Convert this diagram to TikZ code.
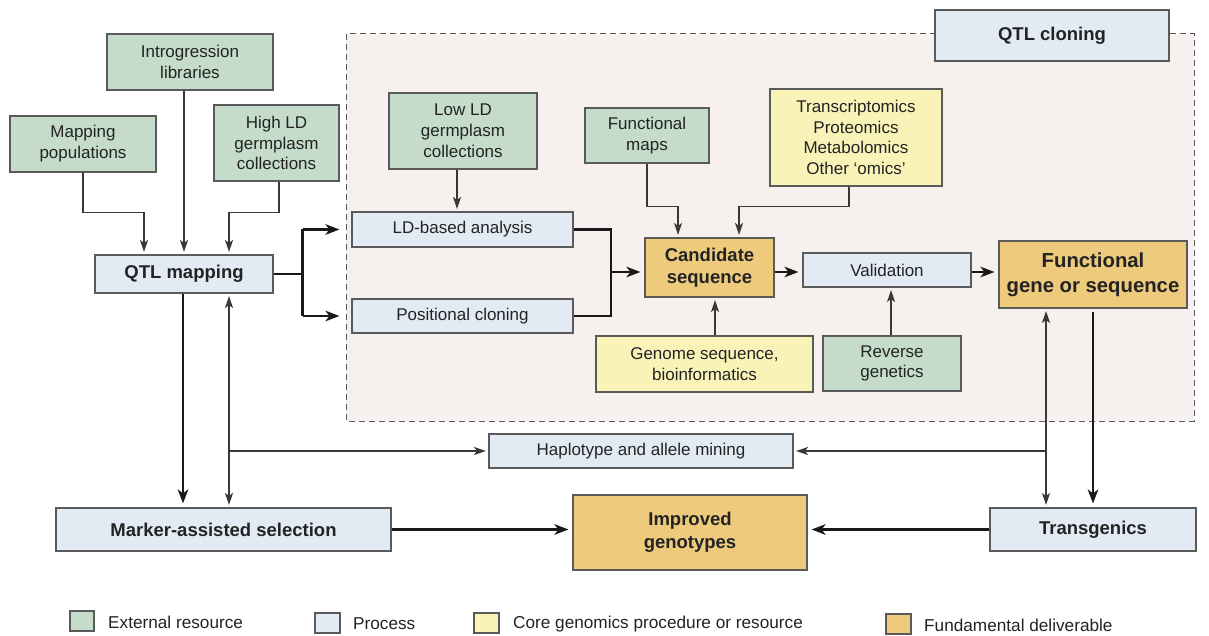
\documentclass[tikz,border=0pt]{standalone}
\usepackage{fontspec}
\setmainfont{Liberation Sans}
\usetikzlibrary{arrows.meta}
\definecolor{cgreen}{RGB}{196,220,201}
\definecolor{cblue}{RGB}{226,234,243}
\definecolor{cyellow}{RGB}{249,243,184}
\definecolor{corange}{RGB}{238,202,124}
\definecolor{cpink}{RGB}{246,240,239}
\definecolor{cborder}{RGB}{90,90,90}
\definecolor{ctext}{RGB}{35,35,35}
\begin{document}
\begin{tikzpicture}[x=1pt,y=-1pt,
  box/.style={draw=cborder, line width=1.1pt, inner sep=0pt, align=center, text=ctext, font=\fontsize{17}{20.8}\selectfont},
  ext/.style={box, fill=cgreen},
  proc/.style={box, fill=cblue},
  core/.style={box, fill=cyellow},
  deliv/.style={box, fill=corange},
  bold/.style={font=\fontsize{18.5}{22.5}\selectfont\bfseries},
  biggest/.style={font=\fontsize{20.3}{25}\selectfont\bfseries},
  thn/.style={draw=black!78, line width=1.1pt},
  thk/.style={draw=black!90, line width=2.5pt},
  arr/.style={thn, -{Stealth[length=12pt,width=8pt,inset=3pt]}, shorten >=2.5pt},
  darr/.style={thn, {Stealth[length=12pt,width=8pt,inset=3pt]}-{Stealth[length=12pt,width=8pt,inset=3pt]}, shorten >=2.5pt, shorten <=2.5pt},
  tarr/.style={thk, -{Stealth[length=14pt,width=10.5pt,inset=4pt]}, shorten >=4pt},
  legtext/.style={anchor=west, inner sep=0pt, text=ctext, font=\fontsize{17.2}{20}\selectfont}]
\useasboundingbox (0,0) rectangle (1209,636);
\fill[white] (0,0) rectangle (1209,636);
% QTL cloning region
\draw[fill=cpink, draw=cborder, line width=1pt, dash pattern=on 6pt off 4pt] (346,34) rectangle (1194,421);
% nodes
\node[ext, minimum width=166pt, minimum height=56pt] (intro) at (190,62) {Introgression\\libraries};
\node[ext, minimum width=146pt, minimum height=56pt] (mappop) at (83,144) {Mapping\\populations};
\node[ext, minimum width=125pt, minimum height=76pt] (highld) at (276.5,143) {High LD\\germplasm\\collections};
\node[proc, bold, minimum width=178pt, minimum height=38pt] (qtlmap) at (184,274) {QTL mapping};
\node[proc, bold, minimum width=234pt, minimum height=51pt] (qtlclon) at (1052,35.5) {QTL cloning};
\node[ext, minimum width=148pt, minimum height=76pt] (lowld) at (463,131) {Low LD\\germplasm\\collections};
\node[ext, minimum width=124pt, minimum height=55pt] (funcmaps) at (647,135.5) {Functional\\maps};
\node[core, minimum width=172pt, minimum height=97pt] (omics) at (856,137.5) {Transcriptomics\\Proteomics\\Metabolomics\\Other ‘omics’};
\node[proc, minimum width=221pt, minimum height=35pt] (ldbased) at (462.5,229.5) {LD-based analysis};
\node[proc, minimum width=221pt, minimum height=34pt] (poscl) at (462.5,316) {Positional cloning};
\node[deliv, bold, minimum width=129pt, minimum height=59pt] (cand) at (709.5,267.5) {Candidate\\sequence};
\node[proc, minimum width=168pt, minimum height=34pt] (valid) at (887,270) {Validation};
\node[deliv, biggest, minimum width=188pt, minimum height=67pt] (funcgene) at (1093,274.5) {Functional\\gene or sequence};
\node[core, minimum width=217pt, minimum height=56pt] (genome) at (704.5,364) {Genome sequence,\\bioinformatics};
\node[ext, minimum width=138pt, minimum height=55pt] (revgen) at (892,363.5) {Reverse\\genetics};
\node[proc, minimum width=304pt, minimum height=34pt] (haplo) at (641,451) {Haplotype and allele mining};
\node[proc, bold, minimum width=335pt, minimum height=43pt] (mas) at (223.5,529.5) {Marker-assisted selection};
\node[deliv, bold, minimum width=234pt, minimum height=75pt] (improved) at (690,532.5) {Improved\\genotypes};
\node[proc, bold, minimum width=206pt, minimum height=43pt] (transg) at (1093,529.5) {Transgenics};
% connectors into QTL mapping
\draw[arr] (mappop.south) -- ++(0,40) -| ([xshift=-40pt]qtlmap.north);
\draw[arr] (qtlmap.north |- intro.south) -- (qtlmap.north);
\draw[arr] ([xshift=2.5pt]highld.south) -- ++(0,31) -| ([xshift=45pt]qtlmap.north);
% QTL mapping to LD / positional
\draw[thk] (qtlmap.east) -- ++(29,0) coordinate (qb);
\draw[thk] (qb |- ldbased.west) -- (qb |- poscl.west);
\draw[tarr, shorten >=12pt] (qb |- ldbased.west) -- (ldbased.west);
\draw[tarr, shorten >=12pt] (qb |- poscl.west) -- (poscl.west);
\draw[arr] ([xshift=-6pt]lowld.south) -- ([xshift=-6pt]lowld.south |- ldbased.north);
% merge into candidate
\coordinate (m) at (611,272);
\draw[thk] (ldbased.east) -| (m) |- (poscl.east);
\draw[tarr] (m) -- (cand.west |- m);
\draw[arr] (funcmaps.south) -- ++(0,43) -| ([xshift=-31.5pt]cand.north);
\draw[arr] ([xshift=-7pt]omics.south) -- ++(0,20) -| ([xshift=29.5pt]cand.north);
\draw[arr] ([xshift=10.5pt]genome.north) -- ([xshift=10.5pt]genome.north |- cand.south);
\draw[tarr] (cand.east |- m) -- (valid.west |- m);
\draw[tarr] (valid.east |- m) -- (funcgene.west |- m);
\draw[arr] (revgen.north -| 891,0) -- (valid.south -| 891,0);
% lower part
\draw[tarr] ([yshift=-3pt]funcgene.south) -- (transg.north);
\draw[darr] ([xshift=-47pt]transg.north) -- ([xshift=-47pt]transg.north |- funcgene.south);
\draw[arr] ([xshift=-47pt]transg.north |- haplo.east) -- (haplo.east);
\draw[tarr] ([xshift=-1pt]qtlmap.south) -- ([xshift=-1pt]qtlmap.south |- mas.north);
\draw[darr] ([xshift=45pt]qtlmap.south |- mas.north) -- ([xshift=45pt]qtlmap.south);
\draw[arr] ([xshift=45pt]qtlmap.south |- haplo.west) -- (haplo.west);
\draw[tarr] (mas.east) -- (mas.east -| improved.west);
\draw[tarr] (transg.west) -- (transg.west -| improved.east);
% legend
\node[ext, minimum width=24pt, minimum height=20pt] (lg1) at (82,621) {};
\node[legtext] (lt1) at (108,622) {External resource};
\node[proc, minimum width=25pt, minimum height=20pt] (lg2) at (327.5,623) {};
\node[legtext] (lt2) at (353,624) {Process};
\node[core, minimum width=25pt, minimum height=20pt] (lg3) at (486.5,623) {};
\node[legtext] (lt3) at (513,624) {Core genomics procedure or resource};
\node[deliv, minimum width=25pt, minimum height=20pt] (lg4) at (898.5,624) {};
\node[legtext] (lt4) at (924,625) {Fundamental deliverable};
\end{tikzpicture}
\end{document}
